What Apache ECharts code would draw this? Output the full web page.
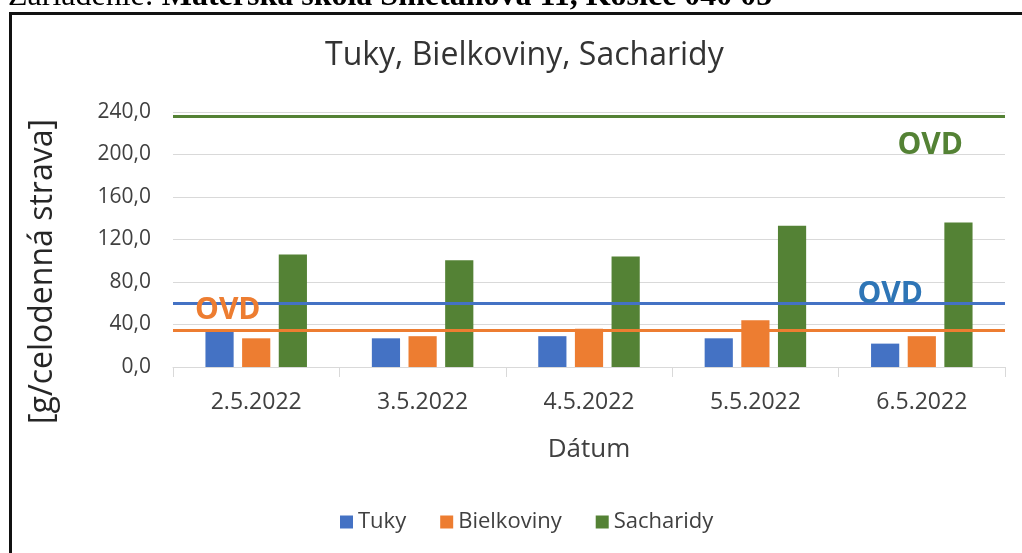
<!DOCTYPE html>
<html>
<head>
<meta charset="utf-8">
<script src="https://cdn.jsdelivr.net/npm/echarts@6/dist/echarts.min.js"></script>
<style>
  html, body { margin: 0; padding: 0; background: #fff; }
  #m1 { width: 1022px; height: 553px; }
</style>
</head>
<body>
<div id="m1"></div>
<script>
// dáta z grafu
var datumy = ['2.5.2022', '3.5.2022', '4.5.2022', '5.5.2022', '6.5.2022'];
var tuky = [33, 27, 29, 27, 22];
var bielkoviny = [27, 29, 36, 44, 29];
var sacharidy = [106, 100.5, 104, 133, 136];
// odporúčané výživové dávky
var ovdTuky = 60;
var ovdBielkoviny = 35;
var ovdSacharidy = 236;
var yTicks = [0, 40, 80, 120, 160, 200, 240];

var font = 'Open Sans';
var modra = '#4472C4', oranzova = '#ED7D31', zelena = '#548235';

function ovdLine(value, color, txtColor, position, distance) {
    return {
        symbol: 'none',
        silent: true,
        animation: false,
        lineStyle: { color: color, width: 3, type: 'solid' },
        label: {
            show: true,
            formatter: 'OVD',
            position: position,
            distance: distance,
            color: txtColor,
            fontFamily: font,
            fontWeight: 'bold',
            fontSize: 30
        },
        data: [{ yAxis: value }]
    };
}

var myChart = echarts.init(document.getElementById('m1'));
var option = {
    animation: false,
    backgroundColor: '#fff',
    title: {
        text: 'Tuky, Bielkoviny, Sacharidy',
        left: 320,
        top: 35,
        textStyle: { fontFamily: font, fontWeight: 'normal', fontSize: 32, color: '#333' }
    },
    legend: {
        data: ['Tuky', 'Bielkoviny', 'Sacharidy'],
        bottom: 15,
        left: 335,
        itemWidth: 13,
        itemHeight: 13,
        itemGap: 34,
        icon: 'rect',
        textStyle: { fontFamily: font, fontSize: 22, color: '#404040' }
    },
    grid: { left: 173, right: 17, top: 112, bottom: 186 },
    xAxis: {
        type: 'category',
        data: datumy,
        name: 'Dátum',
        nameLocation: 'middle',
        nameGap: 70,
        nameTextStyle: { fontFamily: font, fontSize: 26, color: '#404040' },
        axisLine: { lineStyle: { color: '#d9d9d9' } },
        axisTick: { show: true, length: 10, lineStyle: { color: '#d9d9d9' } },
        axisLabel: { fontFamily: font, fontSize: 23, color: '#404040', margin: 24 }
    },
    yAxis: {
        type: 'value',
        min: yTicks[0],
        max: yTicks[yTicks.length - 1],
        interval: 40,
        name: '[g/celodenná strava]',
        nameLocation: 'middle',
        nameGap: 114,
        nameTextStyle: { fontFamily: font, fontSize: 32, color: '#262626', padding: [0, 64, 0, 0] },
        axisLine: { show: false },
        axisTick: { show: false },
        splitLine: { lineStyle: { color: '#d9d9d9', width: 1 } },
        axisLabel: {
            fontFamily: font, fontSize: 21, color: '#404040', margin: 22,
            formatter: function (v) { return v.toFixed(1).replace('.', ','); }
        }
    },
    series: [
        {
            name: 'Tuky', type: 'bar', data: tuky,
            barGap: '30%', barCategoryGap: '39%',
            itemStyle: { color: modra },
            markLine: ovdLine(ovdTuky, modra, '#2E75B6', 'insideEndTop', [82, -6])
        },
        {
            name: 'Bielkoviny', type: 'bar', data: bielkoviny,
            itemStyle: { color: oranzova },
            markLine: ovdLine(ovdBielkoviny, oranzova, oranzova, 'insideStartTop', [22, 4])
        },
        {
            name: 'Sacharidy', type: 'bar', data: sacharidy,
            itemStyle: { color: zelena },
            markLine: ovdLine(ovdSacharidy, zelena, zelena, 'insideEndBottom', [42, 14])
        }
    ],
    graphic: [
        {
            type: 'rect',
            shape: { x: 10.5, y: 13.5, width: 1100, height: 600 },
            style: { fill: 'none', stroke: '#111', lineWidth: 3 }
        },
        {
            type: 'text',
            left: 8,
            top: -19,
            style: {
                text: '{n|Zariadenie: }{b|Materská škola Smetanova 11, Košice 040 05}',
                rich: {
                    n: { fontFamily: 'Liberation Serif', fontSize: 32, fill: '#000' },
                    b: { fontFamily: 'Liberation Serif', fontSize: 32, fontWeight: 'bold', fill: '#000' }
                }
            }
        }
    ]
};
myChart.setOption(option);
</script>
</body>
</html>
